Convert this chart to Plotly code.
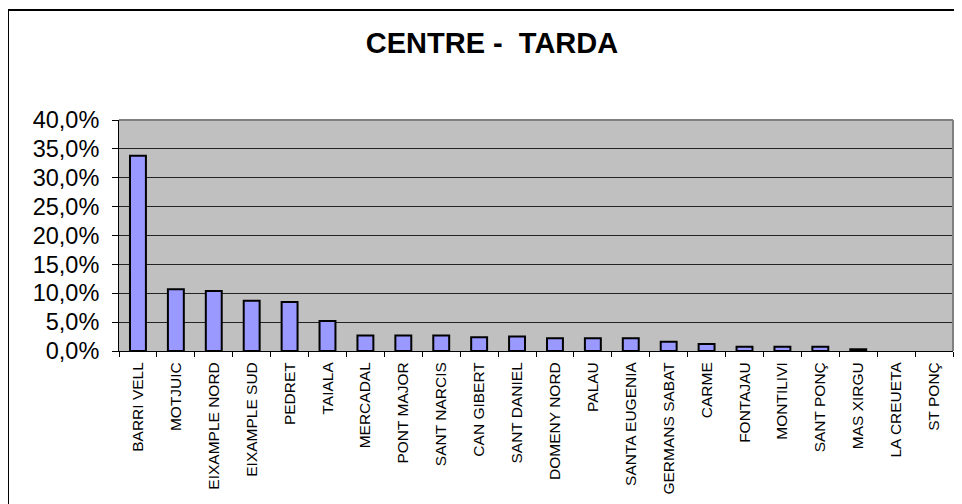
import plotly.graph_objects as go

categories = ["BARRI VELL", "MOTJUIC", "EIXAMPLE NORD", "EIXAMPLE SUD", "PEDRET", "TAIALA",
              "MERCADAL", "PONT MAJOR", "SANT NARCIS", "CAN GIBERT", "SANT DANIEL",
              "DOMENY NORD", "PALAU", "SANTA EUGENIA", "GERMANS SABAT", "CARME",
              "FONTAJAU", "MONTILIVI", "SANT PONÇ", "MAS XIRGU", "LA CREUETA", "ST PONÇ"]
values = [0.338, 0.107, 0.104, 0.087, 0.085, 0.052,
          0.027, 0.027, 0.027, 0.024, 0.025,
          0.022, 0.022, 0.022, 0.016, 0.012,
          0.0075, 0.0075, 0.0075, 0.003, 0.0, 0.0]
y_ticks = [0, 0.05, 0.10, 0.15, 0.20, 0.25, 0.30, 0.35, 0.40]

# page is offset by the default 8px body margin
OFF = 8
W, H = 962 - OFF, 504 - OFF
L = 119 - OFF
T = 120 - OFF
R = W - (953 - OFF)
B = H - (351 - OFF)
pw, ph = W - L - R, H - T - B

def px_x(x):
    return (x - OFF - L) / pw

def px_y(y):
    return (H - B - (y - OFF)) / ph

line_w = [2 if v > 0 else 0 for v in values]

fig = go.Figure(go.Bar(
    x=categories, y=values,
    marker=dict(color="#9999FF", line=dict(color="black", width=line_w)),
    hoverinfo="x+y",
))

font = "Liberation Sans, Arial, sans-serif"

fig.update_layout(
    width=W, height=H,
    margin=dict(l=L, r=R, t=T, b=B, autoexpand=False),
    paper_bgcolor="white", plot_bgcolor="#C0C0C0",
    separators=",.",
    bargap=0.58,
    showlegend=False,
    font=dict(family=font, color="black"),
    title=dict(text="<b>CENTRE - \u00a0TARDA</b>", x=px_x(492), xref="paper", xanchor="center",
               y=1 - (43 - OFF) / H, yanchor="middle",
               font=dict(size=29, family=font, color="black")),
)

fig.update_xaxes(
    type="category", range=[-0.5, len(categories) - 0.5],
    tickangle=-90, tickfont=dict(size=15.5, family=font, color="black"),
    ticks="outside", ticklen=5, tickcolor="black", tickwidth=1, tickson="boundaries",
    showline=True, linecolor="black", linewidth=1,
    showgrid=False, fixedrange=True, ticklabelstandoff=4,
)
fig.update_yaxes(
    range=[0, 0.4], tickvals=y_ticks, tickformat=".1%",
    tickfont=dict(size=23.5, family=font, color="black"),
    ticks="outside", ticklen=6, tickcolor="black", tickwidth=1,
    showline=True, linecolor="black", linewidth=1,
    showgrid=True, gridcolor="#222222", gridwidth=1, zeroline=False,
    fixedrange=True, ticklabelstandoff=8,
)

shapes = [
    dict(type="line", xref="paper", yref="paper", x0=0, x1=1, y0=1, y1=1,
         line=dict(color="#808080", width=2), layer="above"),
    dict(type="line", xref="paper", yref="paper", x0=1, x1=1, y0=0, y1=1,
         line=dict(color="#808080", width=2), layer="above"),
    dict(type="line", xref="paper", yref="paper", x0=px_x(8), x1=px_x(980),
         y0=px_y(10), y1=px_y(10), line=dict(color="black", width=2)),
    dict(type="line", xref="paper", yref="paper", x0=px_x(8), x1=px_x(8),
         y0=px_y(10), y1=px_y(520), line=dict(color="black", width=2)),
]
fig.update_layout(shapes=shapes)

fig.write_html("out.html", config={"displayModeBar": False})
